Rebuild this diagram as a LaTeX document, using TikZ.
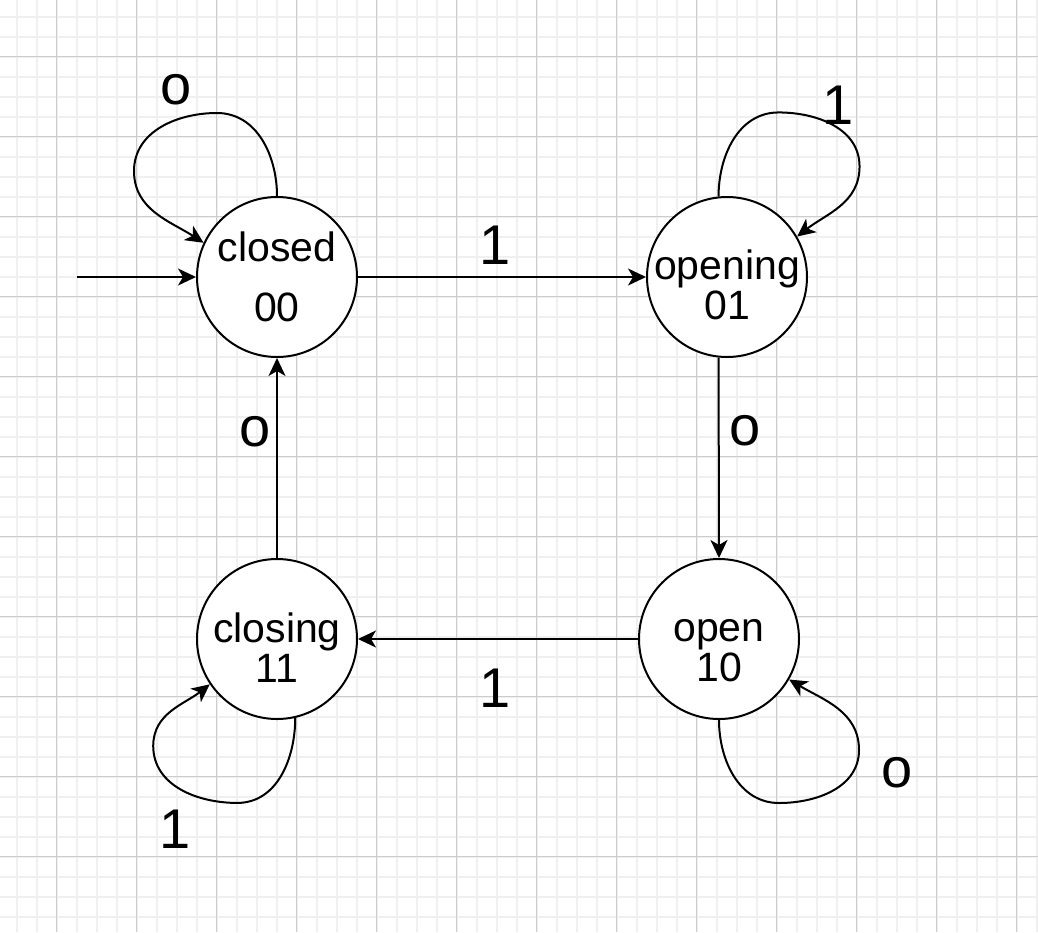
\documentclass[tikz,border=0pt]{standalone}
\usepackage{fontspec}
\setmainfont{Liberation Sans}
\usetikzlibrary{arrows.meta,positioning}
\newcommand{\statetext}[2]{\rule{0pt}{23pt}#1\\#2}
\tikzstyle{state} = [circle, minimum size=80pt, inner sep=-12pt, draw=black, line width=1pt, fill=white, align=center, font=\fontsize{20.5pt}{20pt}\selectfont]
\tikzstyle{lbl} = [inner sep=0pt, font=\fontsize{28pt}{28pt}\selectfont]
\tikzstyle{arrow} = [line width=1pt,->,>={Stealth[length=9pt,width=8.5pt,inset=2.5pt]}]
\tikzstyle{minorgrid} = [line width=1pt, black!6]
\tikzstyle{majorgrid} = [line width=0.5pt, black!20]
\begin{document}
\begin{tikzpicture}[x=0.5pt,y=0.5pt]
   % background grid
   \fill[white] (0,0) rectangle (1038,-932);
   \useasboundingbox (0,0) rectangle (1038,-932);
   \foreach \x in {16.7,36.7,...,1038} \draw[minorgrid] (\x,0) -- (\x,-932);
   \foreach \y in {16.7,36.7,...,932} \draw[minorgrid] (0,-\y) -- (1038,-\y);
   \foreach \x in {56.7,136.7,...,1038} \draw[majorgrid] (\x,0) -- (\x,-932);
   \foreach \y in {56.7,136.7,...,932} \draw[majorgrid] (0,-\y) -- (1038,-\y);
   % states
   \node (closed) [state] at (277,-277) {closed\\[10pt]00};
   \node (opening) [state, right=144pt of closed] {\statetext{opening}{01}};
   \node (closing) [state, below=100pt of closed] {\statetext{closing}{11}};
   \node (open) [state, right=140pt of closing] {\statetext{open}{10}};
   \coordinate (start) at (77,-277);
   % transitions
   \draw [arrow] (start) -- (closed.west);
   \draw [arrow] (closed.east) -- (opening.west) node[lbl,midway,above=6pt,xshift=-3.5pt]{1};
   \draw [arrow] (opening.264) -- (open.north) node[lbl,midway,right=5pt,yshift=13.5pt]{o};
   \draw [arrow] (open.west) -- (closing.east) node[lbl,midway,below=14.5pt,xshift=-1.5pt]{1};
   \draw [arrow] (closing.north) -- (closed.south) node[lbl,midway,left=2.75pt,yshift=13pt]{o};
   % self loops
   \draw [arrow] (closed.north) to[out=90,in=0] ++(-60,83) node[lbl,xshift=-20.5pt,yshift=11.5pt]{o}
      to[out=180,in=90] ++(-83,-58) to[out=-90,in=147] (closed.155);
   \draw [arrow] (opening.96) to[out=90,in=180] ++(60,84) node[lbl,xshift=30pt,yshift=3.5pt]{1}
      to[out=0,in=90] ++(81,-54) to[out=-90,in=38] (opening.30);
   \draw [arrow] (closing.-77) to[out=-90,in=0] ++(-58,-85) node[lbl,xshift=-31pt,yshift=-13pt]{1}
      to[out=180,in=-90] ++(-84,57) to[out=90,in=218] (closing.214);
   \draw [arrow] (open.south) to[out=-90,in=180] ++(60,-83) to[out=0,in=-90] ++(80,53)
      node[lbl,xshift=19pt,yshift=-11.5pt]{o} to[out=90,in=-31] (open.-30);
\end{tikzpicture}
\end{document}
